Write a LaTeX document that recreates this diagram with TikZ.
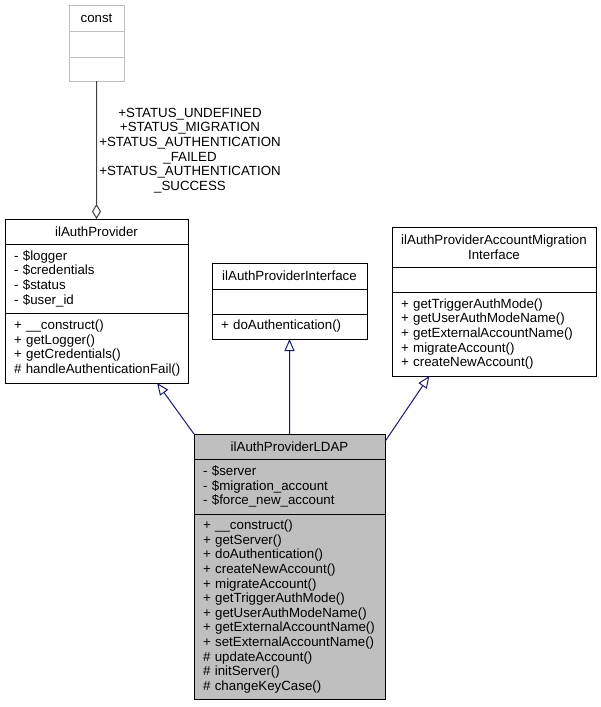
\documentclass[tikz,border=0pt]{standalone}
\usepackage{fontspec}
\setmainfont{Liberation Sans}
\usetikzlibrary{arrows.meta,positioning}

\definecolor{edgeblue}{HTML}{191970}
\definecolor{ldapgray}{HTML}{BFBFBF}
\definecolor{constgray}{HTML}{BFBFBF}
\definecolor{aggrgray}{HTML}{404040}

\begin{document}
\begin{tikzpicture}[x=1bp, y=-1bp,
    every node/.style={font=\fontsize{13.3bp}{14.6bp}\selectfont},
    part/.style={draw, line width=0.9bp, inner xsep=9bp, inner ysep=0pt,
                 outer sep=0pt, align=left},
    title/.style={part, align=center},
    inherit/.style={draw=edgeblue, line width=1bp,
                    -{Triangle[open, length=12bp, width=10bp]}},
    aggr/.style={draw=aggrgray, line width=1bp,
                 -{Diamond[open, length=15bp, width=9bp]}}]

\useasboundingbox (0,0) rectangle (601,707);

% const
\node[title, draw=constgray, anchor=north west, minimum width=55bp,
      minimum height=26bp, text width=37bp] (constT) at (69,5) {const};
\node[part, draw=constgray, below=0pt of constT, minimum width=55bp,
      minimum height=26bp, text width=37bp] (constA) {};
\node[part, draw=constgray, below=0pt of constA, minimum width=55bp,
      minimum height=24bp, text width=37bp] (constM) {};

% ilAuthProvider
\node[title, anchor=north west, minimum width=183bp, minimum height=25bp,
      text width=165bp] (apT) at (5,219) {ilAuthProvider};
\node[part, below=0pt of apT, minimum width=183bp, minimum height=69bp,
      text width=165bp] (apA)
      {- \$logger\\- \$credentials\\- \$status\\- \$user\_id};
\node[part, below=0pt of apA, minimum width=183bp, minimum height=70bp,
      text width=165bp] (apM)
      {+ \_\_construct()\\+ getLogger()\\+ getCredentials()\\\mbox{\# handleAuthenticationFail()}};

% ilAuthProviderInterface
\node[title, anchor=north west, minimum width=155bp, minimum height=26bp,
      text width=137bp] (ifT) at (212,263) {ilAuthProviderInterface};
\node[part, below=0pt of ifT, minimum width=155bp, minimum height=25bp,
      text width=137bp] (ifA) {};
\node[part, below=0pt of ifA, minimum width=155bp, minimum height=25bp,
      text width=137bp] (ifM) {+ doAuthentication()};

% ilAuthProviderAccountMigrationInterface
\node[title, anchor=north west, minimum width=204bp, minimum height=40bp,
      text width=186bp] (mgT) at (392,227)
      {ilAuthProviderAccountMigration\\Interface};
\node[part, below=0pt of mgT, minimum width=204bp, minimum height=25bp,
      text width=186bp] (mgA) {};
\node[part, below=0pt of mgA, minimum width=204bp, minimum height=84bp,
      text width=186bp] (mgM)
      {+ getTriggerAuthMode()\\+ getUserAuthModeName()\\+ getExternalAccountName()\\%
       + migrateAccount()\\+ createNewAccount()};

% ilAuthProviderLDAP
\node[title, fill=ldapgray, anchor=north west, minimum width=191bp,
      minimum height=25bp, text width=173bp] (ldapT) at (194,434)
      {ilAuthProviderLDAP};
\node[part, fill=ldapgray, below=0pt of ldapT, minimum width=191bp,
      minimum height=55bp, text width=173bp] (ldapA)
      {- \$server\\- \$migration\_account\\- \$force\_new\_account};
\node[part, fill=ldapgray, below=0pt of ldapA, minimum width=191bp,
      minimum height=185bp, text width=173bp] (ldapM)
      {+ \_\_construct()\\+ getServer()\\+ doAuthentication()\\+ createNewAccount()\\%
       + migrateAccount()\\+ getTriggerAuthMode()\\+ getUserAuthModeName()\\%
       \mbox{+ getExternalAccountName()}\\\mbox{+ setExternalAccountName()}\\\# updateAccount()\\%
       \# initServer()\\\# changeKeyCase()};

% connectors
\draw[aggr] (constM.south) -- (apT.north);
\node[align=center, inner sep=0pt] (aggrLbl) at (190,150.5)
      {+STATUS\_UNDEFINED\\+STATUS\_MIGRATION\\+STATUS\_AUTHENTICATION\\\_FAILED\\%
       +STATUS\_AUTHENTICATION\\\_SUCCESS};

\draw[inherit] (ldapT.north west) -- (apM.-30);
\draw[inherit] (ldapT.north) -- (ifM.south);
\draw[inherit] (ldapT.3) -- (mgM.-147);

\end{tikzpicture}
\end{document}
